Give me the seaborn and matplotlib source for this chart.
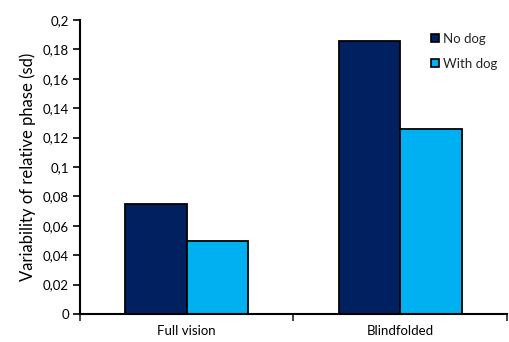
import matplotlib
matplotlib.use("Agg")
import matplotlib.pyplot as plt
from matplotlib.ticker import FuncFormatter, FixedLocator
import seaborn as sns
import pandas as pd

conditions = ["Full vision", "Blindfolded"]
groups = ["No dog", "With dog"]
no_dog = [0.075, 0.186]
with_dog = [0.050, 0.126]
colors = ["#002060", "#00B0F0"]

df = pd.DataFrame({
    "condition": conditions * 2,
    "group": [groups[0]] * 2 + [groups[1]] * 2,
    "value": no_dog + with_dog,
})

sns.set_theme(style="white")
plt.rcParams["font.family"] = ["Lato", "DejaVu Sans"]

fig = plt.figure(figsize=(5.10, 3.42), dpi=100)
ax = fig.add_axes([80 / 510, 1 - 314 / 342, 427 / 510, 294 / 342])

sns.barplot(data=df, x="condition", y="value", hue="group", order=conditions,
            hue_order=groups, palette=colors, width=0.575, edgecolor="black",
            linewidth=1.3, saturation=1, ax=ax)

ax.set_xlim(-0.5, 1.5)
ax.set_ylim(0, 0.2)
ax.set_yticks([i * 0.02 for i in range(11)])
ax.yaxis.set_major_formatter(FuncFormatter(lambda v, p: ("%g" % round(v, 2)).replace(".", ",")))
ax.tick_params(axis="y", direction="out", length=5, width=1.2, left=True,
               labelsize=9.5, colors="black", pad=3)
ax.xaxis.set_minor_locator(FixedLocator([-0.5, 0.5, 1.5]))
ax.tick_params(axis="x", which="major", length=0, labelsize=9.5, pad=8, colors="black")
ax.tick_params(axis="x", which="minor", direction="out", length=5, width=1.2, bottom=True)

for side in ["top", "right"]:
    ax.spines[side].set_visible(False)
for side in ["left", "bottom"]:
    ax.spines[side].set_color("black")
    ax.spines[side].set_linewidth(1.5)

ax.set_xlabel("")
ax.set_ylabel("Variability of relative phase (sd)", fontsize=12, color="black", labelpad=5)

leg = ax.legend(loc="upper left", bbox_to_anchor=(0.81, 0.975), frameon=False,
                fontsize=9.5, handlelength=0.6, handleheight=0.6,
                handletextpad=0.3, labelspacing=1.0, borderaxespad=0)
for h in leg.legend_handles:
    h.set_edgecolor("black")
    h.set_linewidth(1.2)

fig.savefig("out.png", dpi=100)
